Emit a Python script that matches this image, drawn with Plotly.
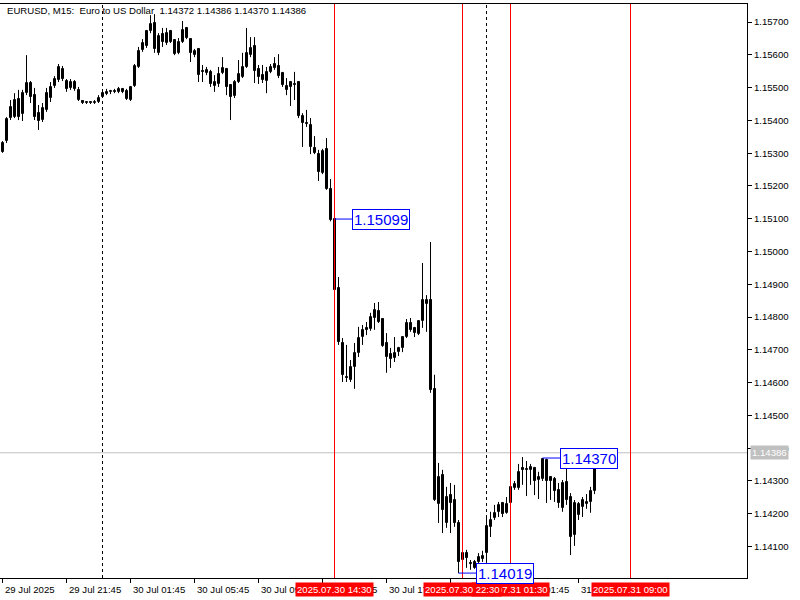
import plotly.graph_objects as go
import pandas as pd

# ---------------- data ----------------
bar_start = "2025-07-29 17:45"
bar_count = 151
bar_times = pd.date_range(bar_start, periods=bar_count, freq="15min")

opens = [
    1.15331, 1.15337, 1.15407, 1.15410, 1.15465, 1.15419, 1.15483, 1.15514, 1.15477, 1.15422,
    1.15401, 1.15432, 1.15468, 1.15505, 1.15523, 1.15557, 1.15520, 1.15499, 1.15517, 1.15493,
    1.15459, 1.15453, 1.15456, 1.15453, 1.15456, 1.15471, 1.15480, 1.15487, 1.15490, 1.15487,
    1.15496, 1.15490, 1.15462, 1.15505, 1.15563, 1.15615, 1.15627, 1.15673, 1.15697, 1.15606,
    1.15663, 1.15636, 1.15673, 1.15645, 1.15606, 1.15639, 1.15682, 1.15648, 1.15599, 1.15618,
    1.15551, 1.15544, 1.15548, 1.15505, 1.15511, 1.15544, 1.15557, 1.15508, 1.15474, 1.15517,
    1.15532, 1.15563, 1.15599, 1.15627, 1.15557, 1.15538, 1.15520, 1.15548, 1.15572, 1.15566,
    1.15544, 1.15505, 1.15502, 1.15511, 1.15517, 1.15413, 1.15392, 1.15386, 1.15316, 1.15297,
    1.15240, 1.15313, 1.15191, 1.15099, 1.14889, 1.14721, 1.14618, 1.14608, 1.14648, 1.14690,
    1.14739, 1.14767, 1.14764, 1.14797, 1.14819, 1.14794, 1.14721, 1.14687, 1.14675, 1.14693,
    1.14706, 1.14739, 1.14782, 1.14767, 1.14748, 1.14788, 1.14840, 1.14852, 1.14581, 1.14230,
    1.14318, 1.14172, 1.14257, 1.14242, 1.14172, 1.14059, 1.14080, 1.14050, 1.14053, 1.14053,
    1.14062, 1.14080, 1.14160, 1.14187, 1.14206, 1.14233, 1.14203, 1.14233, 1.14279, 1.14279,
    1.14340, 1.14337, 1.14334, 1.14340, 1.14303, 1.14306, 1.14364, 1.14312, 1.14306, 1.14273,
    1.14218, 1.14297, 1.14251, 1.14135, 1.14197, 1.14221, 1.14230, 1.14236, 1.14270, 1.14349,
    1.14372,
]
highs = [
    1.15337, 1.15410, 1.15462, 1.15483, 1.15493, 1.15493, 1.15599, 1.15520, 1.15499, 1.15447,
    1.15453, 1.15499, 1.15517, 1.15535, 1.15572, 1.15566, 1.15526, 1.15526, 1.15523, 1.15502,
    1.15462, 1.15459, 1.15459, 1.15462, 1.15477, 1.15493, 1.15496, 1.15493, 1.15496, 1.15502,
    1.15499, 1.15496, 1.15505, 1.15572, 1.15624, 1.15648, 1.15676, 1.15721, 1.15724, 1.15666,
    1.15682, 1.15682, 1.15676, 1.15648, 1.15651, 1.15703, 1.15685, 1.15651, 1.15618, 1.15621,
    1.15569, 1.15563, 1.15554, 1.15538, 1.15563, 1.15593, 1.15560, 1.15511, 1.15523, 1.15584,
    1.15606, 1.15682, 1.15654, 1.15654, 1.15569, 1.15569, 1.15563, 1.15572, 1.15593, 1.15602,
    1.15548, 1.15529, 1.15517, 1.15548, 1.15520, 1.15422, 1.15432, 1.15407, 1.15352, 1.15310,
    1.15313, 1.15346, 1.15221, 1.15099, 1.14922, 1.14736, 1.14715, 1.14669, 1.14721, 1.14770,
    1.14776, 1.14785, 1.14813, 1.14843, 1.14846, 1.14797, 1.14751, 1.14706, 1.14739, 1.14709,
    1.14739, 1.14794, 1.14797, 1.14770, 1.14791, 1.14965, 1.14867, 1.15029, 1.14624, 1.14355,
    1.14334, 1.14282, 1.14294, 1.14288, 1.14181, 1.14096, 1.14090, 1.14059, 1.14059, 1.14080,
    1.14087, 1.14190, 1.14206, 1.14227, 1.14236, 1.14236, 1.14251, 1.14288, 1.14300, 1.14352,
    1.14373, 1.14361, 1.14352, 1.14343, 1.14328, 1.14370, 1.14368, 1.14315, 1.14312, 1.14294,
    1.14303, 1.14364, 1.14263, 1.14242, 1.14236, 1.14251, 1.14260, 1.14282, 1.14358, 1.14379,
    1.14386,
]
lows = [
    1.15301, 1.15331, 1.15401, 1.15407, 1.15401, 1.15398, 1.15477, 1.15453, 1.15401, 1.15371,
    1.15395, 1.15426, 1.15456, 1.15499, 1.15517, 1.15520, 1.15487, 1.15493, 1.15490, 1.15459,
    1.15450, 1.15450, 1.15450, 1.15450, 1.15453, 1.15468, 1.15477, 1.15480, 1.15483, 1.15483,
    1.15483, 1.15462, 1.15459, 1.15502, 1.15560, 1.15609, 1.15621, 1.15666, 1.15606, 1.15599,
    1.15624, 1.15630, 1.15636, 1.15599, 1.15602, 1.15636, 1.15648, 1.15578, 1.15593, 1.15517,
    1.15517, 1.15538, 1.15502, 1.15487, 1.15502, 1.15541, 1.15477, 1.15401, 1.15468, 1.15514,
    1.15529, 1.15560, 1.15593, 1.15514, 1.15511, 1.15514, 1.15483, 1.15544, 1.15554, 1.15529,
    1.15502, 1.15477, 1.15444, 1.15462, 1.15407, 1.15319, 1.15380, 1.15297, 1.15297, 1.15215,
    1.15236, 1.15188, 1.15092, 1.14883, 1.14715, 1.14602, 1.14602, 1.14602, 1.14581, 1.14678,
    1.14715, 1.14745, 1.14758, 1.14761, 1.14782, 1.14709, 1.14630, 1.14645, 1.14663, 1.14681,
    1.14693, 1.14736, 1.14755, 1.14739, 1.14745, 1.14767, 1.14755, 1.14569, 1.14239, 1.14172,
    1.14141, 1.14157, 1.14141, 1.14160, 1.14019, 1.14029, 1.14035, 1.14029, 1.14032, 1.14050,
    1.14053, 1.14050, 1.14129, 1.14181, 1.14190, 1.14190, 1.14200, 1.14230, 1.14273, 1.14273,
    1.14288, 1.14254, 1.14288, 1.14257, 1.14245, 1.14300, 1.14233, 1.14242, 1.14236, 1.14218,
    1.14206, 1.14227, 1.14074, 1.14102, 1.14181, 1.14190, 1.14215, 1.14203, 1.14260, 1.14343,
    1.14370,
]
closes = [
    1.15304, 1.15404, 1.15441, 1.15462, 1.15410, 1.15483, 1.15514, 1.15471, 1.15410, 1.15398,
    1.15438, 1.15483, 1.15502, 1.15526, 1.15563, 1.15526, 1.15496, 1.15517, 1.15496, 1.15462,
    1.15453, 1.15456, 1.15453, 1.15456, 1.15468, 1.15483, 1.15487, 1.15490, 1.15487, 1.15496,
    1.15487, 1.15465, 1.15502, 1.15566, 1.15612, 1.15636, 1.15673, 1.15694, 1.15618, 1.15657,
    1.15639, 1.15666, 1.15639, 1.15602, 1.15639, 1.15676, 1.15651, 1.15606, 1.15612, 1.15538,
    1.15548, 1.15554, 1.15511, 1.15517, 1.15541, 1.15560, 1.15502, 1.15471, 1.15517, 1.15541,
    1.15563, 1.15606, 1.15621, 1.15551, 1.15532, 1.15523, 1.15548, 1.15563, 1.15560, 1.15535,
    1.15508, 1.15493, 1.15517, 1.15508, 1.15413, 1.15392, 1.15389, 1.15319, 1.15301, 1.15243,
    1.15307, 1.15191, 1.15096, 1.14883, 1.14724, 1.14624, 1.14614, 1.14648, 1.14690, 1.14736,
    1.14761, 1.14761, 1.14800, 1.14822, 1.14785, 1.14712, 1.14678, 1.14672, 1.14690, 1.14706,
    1.14739, 1.14782, 1.14761, 1.14751, 1.14788, 1.14852, 1.14852, 1.14578, 1.14242, 1.14312,
    1.14212, 1.14251, 1.14233, 1.14172, 1.14053, 1.14080, 1.14065, 1.14047, 1.14035, 1.14068,
    1.14071, 1.14163, 1.14181, 1.14203, 1.14227, 1.14200, 1.14230, 1.14282, 1.14291, 1.14328,
    1.14334, 1.14334, 1.14343, 1.14300, 1.14312, 1.14367, 1.14300, 1.14300, 1.14270, 1.14233,
    1.14294, 1.14242, 1.14129, 1.14233, 1.14230, 1.14242, 1.14236, 1.14270, 1.14352, 1.14370,
    1.14386,
]

title_text = "EURUSD, M15:\u00a0\u00a0Euro to US Dollar\u00a0\u00a01.14372 1.14386 1.14370 1.14386"
current_price = 1.14386

tick_times = ["2025-07-29 17:45", "2025-07-29 21:45", "2025-07-30 01:45", "2025-07-30 05:45",
              "2025-07-30 09:45", "2025-07-30 13:45", "2025-07-30 17:45", "2025-07-30 21:45",
              "2025-07-31 01:45", "2025-07-31 05:45"]
tick_labels = ["29 Jul 2025", "29 Jul 21:45", "30 Jul 01:45", "30 Jul 05:45",
               "30 Jul 09:45", "30 Jul 13:45", "30 Jul 17:45", "30 Jul 21:45",
               "31 Jul 01:45", "31 Jul 05:45"]

day_separators = ["2025-07-30 00:00", "2025-07-31 00:00"]

# drawn in this order: later labels cover earlier ones
vline_times = ["2025-07-30 14:30", "2025-07-31 01:30", "2025-07-30 22:30", "2025-07-31 09:00"]
vline_labels = ["2025.07.30 14:30", "2025.07.31 01:30", "2025.07.30 22:30", "2025.07.31 09:00"]

price_label_bars = [83, 114, 135]
price_label_values = [1.15099, 1.14019, 1.14370]

x_range = ["2025-07-29 17:35:37.5", "2025-07-31 16:16:52.5"]
y_range = [1.14004, 1.15755]

FONT = "Liberation Sans"
FS = 9.6
BODY_W_MS = 450000  # body width (2 px at this scale) in milliseconds

# ---------------- figure ----------------
fig = go.Figure()

# wicks
wx, wy = [], []
for t, h, l in zip(bar_times, highs, lows):
    wx += [t, t, None]
    wy += [l, h, None]
fig.add_trace(go.Scatter(x=wx, y=wy, mode="lines", line=dict(color="black", width=1),
                         hoverinfo="skip", showlegend=False))

# bodies
up_x, up_b, up_h, dn_x, dn_b, dn_h = [], [], [], [], [], []
for t, o, c in zip(bar_times, opens, closes):
    lo_, hi_ = min(o, c), max(o, c)
    if c >= o:
        up_x.append(t); up_b.append(lo_); up_h.append(hi_ - lo_)
    else:
        dn_x.append(t); dn_b.append(lo_); dn_h.append(hi_ - lo_)
fig.add_trace(go.Bar(x=up_x, y=up_h, base=up_b, width=BODY_W_MS,
                     marker=dict(color="white", line=dict(color="black", width=1)),
                     hoverinfo="skip", showlegend=False))
fig.add_trace(go.Bar(x=dn_x, y=dn_h, base=dn_b, width=BODY_W_MS,
                     marker=dict(color="black", line=dict(color="black", width=1)),
                     hoverinfo="skip", showlegend=False))

shapes = []
shapes.append(dict(type="line", xref="paper", x0=0, x1=1, yref="y", y0=current_price, y1=current_price,
                   line=dict(color="#C0C0C0", width=1), layer="below"))
for t in day_separators:
    shapes.append(dict(type="line", xref="x", x0=t, x1=t, yref="paper", y0=0, y1=1,
                       line=dict(color="black", width=1, dash="3px,3px"), layer="above"))
for t in vline_times:
    shapes.append(dict(type="line", xref="x", x0=t, x1=t, yref="paper", y0=0, y1=1,
                       line=dict(color="#FF0000", width=1), layer="above"))

annotations = []
annotations.append(dict(text=title_text, xref="paper", yref="paper", x=0, y=1, xanchor="left",
                        yanchor="top", xshift=5, yshift=1, showarrow=False,
                        font=dict(family=FONT, size=FS, color="black")))
for t, lab in zip(tick_times, tick_labels):
    annotations.append(dict(text=lab, xref="x", yref="paper", x=t, y=0, xanchor="left",
                            yanchor="top", xshift=0, yshift=-4, showarrow=False,
                            font=dict(family=FONT, size=FS, color="black")))
for t, lab in zip(vline_times, vline_labels):
    annotations.append(dict(text=lab, xref="x", yref="paper", x=t, y=0, xanchor="center",
                            yanchor="top", yshift=-4, showarrow=False, bgcolor="#FF0000",
                            borderpad=1, font=dict(family=FONT, size=FS, color="white")))
for b, v in zip(price_label_bars, price_label_values):
    annotations.append(dict(text=f"{v:.5f}", xref="x", yref="y", x=bar_times[b], y=v,
                            showarrow=True, arrowhead=0, arrowwidth=1, arrowcolor="#0000FF",
                            ax=46, ay=0, bgcolor="white", bordercolor="#0000FF", borderwidth=1,
                            borderpad=1, font=dict(family=FONT, size=15, color="#0000FF")))
annotations.append(dict(text=f"{current_price:.5f}", xref="paper", yref="y", x=1, y=current_price,
                        xanchor="left", yanchor="middle", xshift=3, showarrow=False,
                        bgcolor="#C0C0C0", borderpad=1,
                        font=dict(family=FONT, size=FS, color="white")))

fig.update_layout(
    width=800, height=600,
    margin=dict(l=0, r=53, t=4, b=22),
    paper_bgcolor="white", plot_bgcolor="white",
    barmode="overlay", bargap=0,
    shapes=shapes, annotations=annotations,
    showlegend=False,
    xaxis=dict(type="date", range=x_range,
               showgrid=False, zeroline=False, showline=True, mirror=True,
               linecolor="black", linewidth=1, ticks="outside", ticklen=4,
               tickcolor="black", tickvals=tick_times, showticklabels=False,
               fixedrange=True),
    yaxis=dict(side="right", range=y_range, showgrid=False, zeroline=False,
               showline=True, mirror=True, linecolor="black", linewidth=1,
               ticks="outside", ticklen=4, tickcolor="black",
               tick0=1.141, dtick=0.001, tickformat=".5f",
               tickfont=dict(family=FONT, size=FS, color="black"), fixedrange=True),
)

fig.write_html("out.html", config=dict(displayModeBar=False),
               post_script="document.body.style.margin='0px';document.body.style.overflow='hidden';")
